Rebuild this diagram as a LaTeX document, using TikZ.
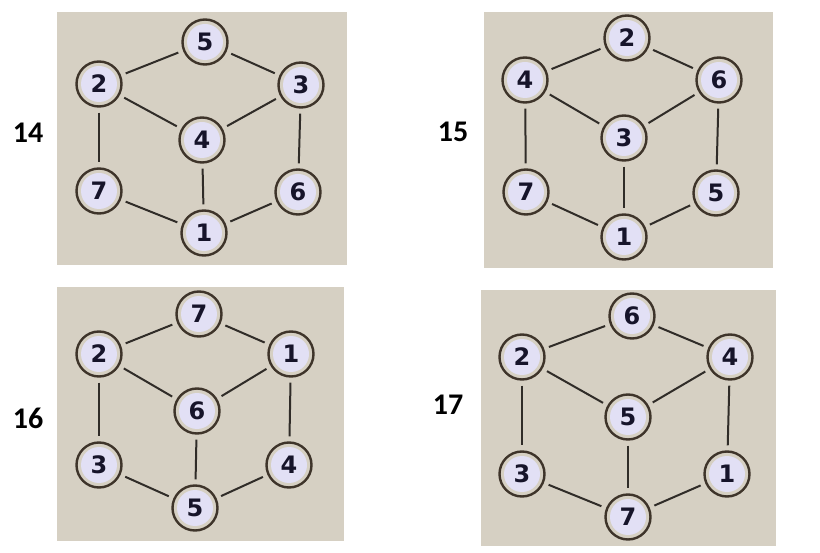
\documentclass[tikz,border=0pt]{standalone}
\usepackage{fontspec}
\newfontfamily\nodefont{DejaVu Sans}
\newfontfamily\labfont{Carlito}
\definecolor{paper}{RGB}{214,208,195}
\definecolor{ring}{RGB}{62,52,42}
\definecolor{disc}{RGB}{226,224,245}
\definecolor{digit}{RGB}{22,20,42}
\definecolor{edgec}{RGB}{48,44,40}
\tikzset{
  vtx/.style={circle, draw=ring, line width=2.4pt, fill=paper, minimum size=45pt, inner sep=0pt,
    path picture={\fill[disc] (path picture bounding box.center) circle (18pt);},
    font=\nodefont\bfseries\fontsize{24}{24}\selectfont, text=digit},
  lnk/.style={draw=edgec, line width=2pt, shorten <=5pt, shorten >=5pt},
  panel/.style={fill=paper, draw=none},
  numlab/.style={font=\labfont\bfseries\fontsize{30}{30}\selectfont, text=black}
}
\begin{document}
\begin{tikzpicture}[x=1pt,y=-1pt]
\useasboundingbox (0,0) rectangle (820,553);
\fill[white] (0,0) rectangle (820,553);
% panels
\path[panel] (57,12) rectangle (347,265);
\path[panel] (484,12) rectangle (773,268);
\path[panel] (57,287) rectangle (344,541);
\path[panel] (481,290) rectangle (776,546);
% labels
\node[numlab] (l14) at (28,133) {14};
\node[numlab] (l15) at (453,132) {15};
\node[numlab] (l16) at (28,418) {16};
\node[numlab] (l17) at (448,405) {17};
% panel 14
\node[vtx] (aT) at (205,42) {5};
\node[vtx] (aTL) at (99,84) {2};
\node[vtx] (aTR) at (301,85) {3};
\node[vtx] (aC) at (202,140) {4};
\node[vtx] (aBL) at (99,191) {7};
\node[vtx] (aBR) at (298,192) {6};
\node[vtx] (aB) at (204,233) {1};
% panel 15
\node[vtx] (bT) at (627,38) {2};
\node[vtx] (bTL) at (525,80) {4};
\node[vtx] (bTR) at (719,80) {6};
\node[vtx] (bC) at (624,138) {3};
\node[vtx] (bBL) at (526,192) {7};
\node[vtx] (bBR) at (716,193) {5};
\node[vtx] (bB) at (624,237) {1};
% panel 16
\node[vtx] (cT) at (199,314) {7};
\node[vtx] (cTL) at (99,354) {2};
\node[vtx] (cTR) at (291,354) {1};
\node[vtx] (cC) at (197,411) {6};
\node[vtx] (cBL) at (99,465) {3};
\node[vtx] (cBR) at (289,465) {4};
\node[vtx] (cB) at (195,508) {5};
% panel 17
\node[vtx] (dT) at (632,316) {6};
\node[vtx] (dTL) at (522,357) {2};
\node[vtx] (dTR) at (730,357) {4};
\node[vtx] (dC) at (628,417) {5};
\node[vtx] (dBL) at (522,474) {3};
\node[vtx] (dBR) at (727,474) {1};
\node[vtx] (dB) at (628,517) {7};
% edges
\foreach \p in {a,b,c,d}{
  \path[lnk] (\p T) -- (\p TL);
  \path[lnk] (\p T) -- (\p TR);
  \path[lnk] (\p TL) -- (\p C);
  \path[lnk] (\p TR) -- (\p C);
  \path[lnk] (\p TL) -- (\p BL);
  \path[lnk] (\p TR) -- (\p BR);
  \path[lnk] (\p C) -- (\p B);
  \path[lnk] (\p BL) -- (\p B);
  \path[lnk] (\p BR) -- (\p B);
}
\end{tikzpicture}
\end{document}
